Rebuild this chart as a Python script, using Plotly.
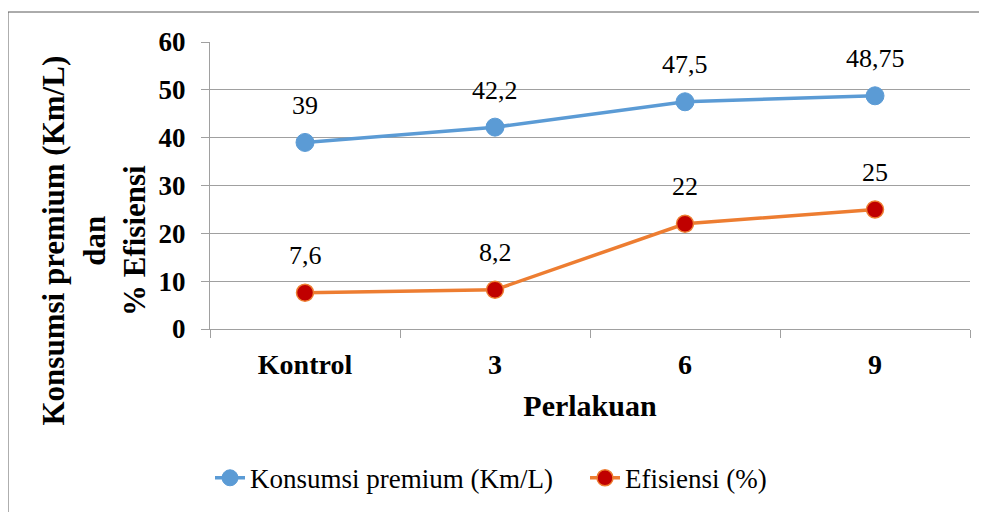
import plotly.graph_objects as go

categories = ["Kontrol", "3", "6", "9"]
konsumsi = [39, 42.2, 47.5, 48.75]
efisiensi = [7.6, 8.2, 22, 25]
konsumsi_labels = ["39", "42,2", "47,5", "48,75"]
efisiensi_labels = ["7,6", "8,2", "22", "25"]
y_ticks = [0, 10, 20, 30, 40, 50, 60]

FONT = "Liberation Serif"

fig = go.Figure()
fig.add_trace(go.Scatter(
    x=categories, y=konsumsi, mode="lines+markers",
    name="Konsumsi premium (Km/L)",
    line=dict(color="#5B9BD5", width=3.5),
    marker=dict(color="#5B9BD5", size=18, line=dict(color="#5B9BD5", width=1)),
))
fig.add_trace(go.Scatter(
    x=categories, y=efisiensi, mode="lines+markers",
    name="Efisiensi (%)",
    line=dict(color="#ED7D31", width=3.5),
    marker=dict(color="#C00000", size=17, line=dict(color="#ED7D31", width=1.5)),
))

annotations = []
for i, (v, t) in enumerate(zip(konsumsi, konsumsi_labels)):
    annotations.append(dict(x=i, y=v, text=t, showarrow=False, yshift=37,
                            yanchor="middle", font=dict(family=FONT, size=26, color="black")))
for i, (v, t) in enumerate(zip(efisiensi, efisiensi_labels)):
    annotations.append(dict(x=i, y=v, text=t, showarrow=False, yshift=37,
                            yanchor="middle", font=dict(family=FONT, size=26, color="black")))
annotations.append(dict(
    xref="paper", yref="paper", x=-0.152, y=0.31,
    text="<b>Konsumsi premium (Km/L)<br>dan<br>% Efisiensi</b>",
    textangle=-90, showarrow=False, xanchor="center", yanchor="middle",
    font=dict(family=FONT, size=31, color="black"),
))

fig.update_layout(
    width=979, height=504,
    margin=dict(l=202, r=17, t=34, b=183, autoexpand=False),
    paper_bgcolor="white", plot_bgcolor="white",
    font=dict(family=FONT, color="black"),
    showlegend=True,
    legend=dict(orientation="h", x=0.0, y=-0.52, xanchor="left", yanchor="middle",
                font=dict(family=FONT, size=27, color="black"),
                entrywidth=330, entrywidthmode="pixels",
                bgcolor="rgba(0,0,0,0)"),
    annotations=annotations,
    shapes=[dict(type="rect", xref="paper", yref="paper",
                 x0=-0.2658, y0=-0.8, x1=1.2, y1=1.1045,
                 line=dict(color="#595959", width=1), fillcolor="rgba(0,0,0,0)", layer="below")],
)
fig.update_xaxes(
    type="category", range=[-0.5, 3.5],
    showline=True, linecolor="#A0A0A0", linewidth=1,
    ticks="outside", ticklen=8, tickcolor="#A0A0A0", tickson="boundaries",
    showgrid=False, ticklabelstandoff=10,
    tickfont=dict(family=FONT, size=28, color="black", weight="bold"),
    title=dict(text="<b>Perlakuan</b>", font=dict(family=FONT, size=30, color="black"), standoff=16),
)
fig.update_yaxes(
    range=[0, 60], tickvals=y_ticks, ticktext=[str(v) for v in y_ticks],
    showline=True, linecolor="#A0A0A0", linewidth=1,
    ticks="outside", ticklen=8, tickcolor="#A0A0A0",
    showgrid=True, gridcolor="#A0A0A0", gridwidth=1, zeroline=False,
    tickfont=dict(family=FONT, size=27, color="black", weight="bold"),
    ticklabelstandoff=10,
)

fig.write_html("out.html")
